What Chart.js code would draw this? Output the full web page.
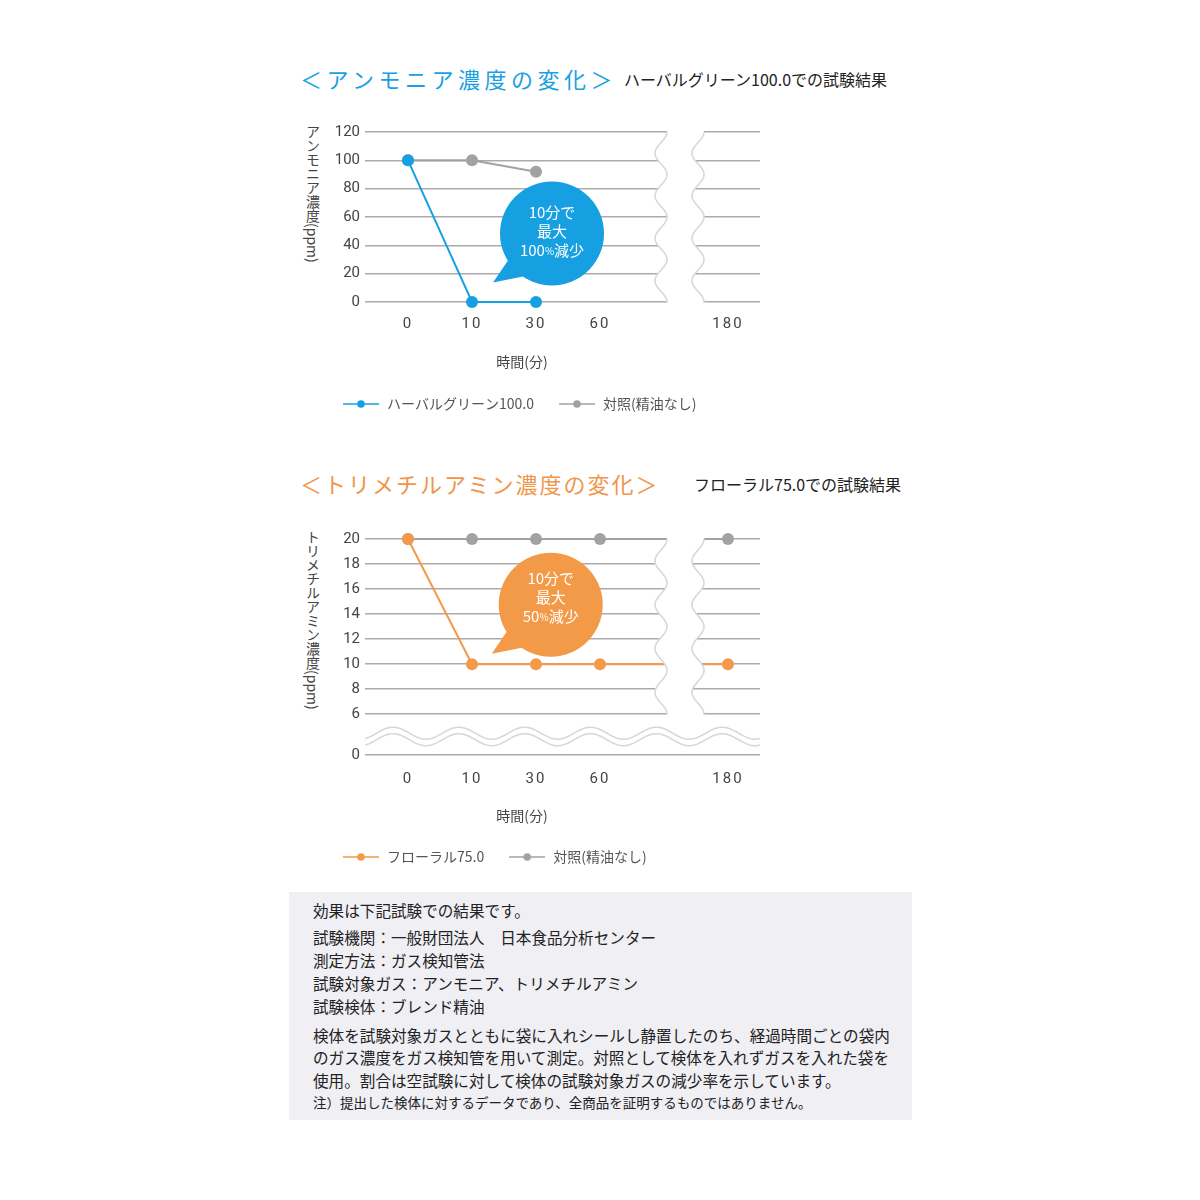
<!DOCTYPE html>
<html lang="ja">
<head>
<meta charset="utf-8">
<script src="https://cdn.jsdelivr.net/npm/chart.js@4.4.1/dist/chart.umd.min.js"></script>
<style>
  html, body { margin: 0; padding: 0; background: #fff; }
  body { width: 1200px; height: 1200px; position: relative; font-family: "Noto Sans CJK JP", sans-serif; }
  .head { position: absolute; left: 300px; font-size: 22px; line-height: 30px; white-space: nowrap; }
  .sub { position: absolute; font-size: 16px; line-height: 24px; color: #222; white-space: nowrap; }
  .ytitle { position: absolute; left: 305px; writing-mode: vertical-rl; font-size: 14px; line-height: 16px; color: #444; white-space: nowrap; }
  canvas { position: absolute; left: 278px; }
  #note { position: absolute; left: 289px; top: 892px; width: 623px; height: 228px; background: #efeff4; color: #222; }
  #note div { position: absolute; left: 24px; font-size: 15.6px; line-height: 24px; white-space: nowrap; }
  #note div.small { font-size: 13.5px; }
</style>
</head>
<body>

<div class="head" style="top:63px; color:#17a0e3; letter-spacing:4.5px;">＜アンモニア濃度の変化＞</div>
<div class="sub" style="left:624px; top:67px;">ハーバルグリーン100.0での試験結果</div>
<div class="ytitle" style="top:125px;">アンモニア濃度(ppm)</div>
<canvas id="chart1" width="488" height="311" style="top:110px;"></canvas>

<div class="head" style="top:468px; color:#f0954a; letter-spacing:2px;">＜トリメチルアミン濃度の変化＞</div>
<div class="sub" style="left:694px; top:472px;">フローラル75.0での試験結果</div>
<div class="ytitle" style="top:530px;">トリメチルアミン濃度(ppm)</div>
<canvas id="chart2" width="488" height="359" style="top:515px;"></canvas>

<div id="note">
  <div style="top:6px">効果は下記試験での結果です。</div>
  <div style="top:33px">試験機関：一般財団法人　日本食品分析センター</div>
  <div style="top:56px">測定方法：ガス検知管法</div>
  <div style="top:79px">試験対象ガス：アンモニア、トリメチルアミン</div>
  <div style="top:102px">試験検体：ブレンド精油</div>
  <div style="top:131px">検体を試験対象ガスとともに袋に入れシールし静置したのち、経過時間ごとの袋内</div>
  <div style="top:153px">のガス濃度をガス検知管を用いて測定。対照として検体を入れずガスを入れた袋を</div>
  <div style="top:176px">使用。割合は空試験に対して検体の試験対象ガスの減少率を示しています。</div>
  <div class="small" style="top:198px">注）提出した検体に対するデータであり、全商品を証明するものではありません。</div>
</div>

<script>
const timeLabels = ['0', '10', '30', '60', '', '180'];
const ammoniaHerbal = [100, 0, 0, null, null, null];
const ammoniaControl = [100, 100, 92, null, null, null];
const ammoniaTicks = [0, 20, 40, 60, 80, 100, 120];
const tmaFloral = [20, 10, 10, 10, null, 10];
const tmaControl = [20, 20, 20, 20, null, 20];
const tmaTicks = [0, 6, 8, 10, 12, 14, 16, 18, 20];
const tmaFloor = 2.74; // where the "0" tick sits below the axis break

const BLUE = '#16a0e2';
const ORANGE = '#f39a48';
const GRAY = '#a2a2a2';
const GRID = '#ababab';
const WAVE = '#d8d8d8';
const FONT = '"Noto Sans CJK JP", sans-serif';
const NUMFONT = 'Roboto, "Noto Sans CJK JP", sans-serif';

function points(values) {
    return values.map((v, i) => ({x: i, y: v}));
}

function marker(color) {
    const c = document.createElement('canvas');
    c.width = 36;
    c.height = 10;
    const g = c.getContext('2d');
    g.strokeStyle = color;
    g.lineWidth = 1.5;
    g.beginPath();
    g.moveTo(0, 5);
    g.lineTo(36, 5);
    g.stroke();
    g.fillStyle = color;
    g.beginPath();
    g.arc(18, 5, 3.8, 0, Math.PI * 2);
    g.fill();
    return c;
}

// white gap with wavy edges across the time axis (and optional value axis break)
const breakPlugin = {
    id: 'breaks',
    afterDatasetsDraw(chart, args, opts) {
        const {ctx, chartArea: a, scales: {x, y}} = chart;
        const top = a.top;
        const bot = y.getPixelForValue(opts.vBottom);
        const period = (bot - top) / 4;
        const lc = x.getPixelForValue(4) - 3;
        const rc = lc + 37;
        const amp = 6;
        const wx = (c, yy) => c + amp * Math.cos(2 * Math.PI * (yy - top) / period);
        ctx.save();
        ctx.fillStyle = '#fff';
        ctx.beginPath();
        for (let yy = top - 2; yy <= bot + 2; yy++) ctx.lineTo(wx(lc, yy), yy);
        for (let yy = bot + 2; yy >= top - 2; yy--) ctx.lineTo(wx(rc, yy), yy);
        ctx.closePath();
        ctx.fill();
        ctx.strokeStyle = WAVE;
        ctx.lineWidth = 1.6;
        [lc, rc].forEach(c => {
            ctx.beginPath();
            for (let yy = top; yy <= bot + 1; yy++) ctx.lineTo(wx(c, yy), yy);
            ctx.stroke();
        });
        if (opts.hBreak) {
            const base = y.getPixelForValue(6);
            const hp = (a.right - a.left) / 6;
            const x0 = a.left + 28;
            [19, 25.5].forEach(dy => {
                ctx.beginPath();
                for (let xx = a.left; xx <= a.right; xx++) {
                    ctx.lineTo(xx, base + dy - amp * Math.cos(2 * Math.PI * (xx - x0) / hp));
                }
                ctx.stroke();
            });
        }
        ctx.restore();
    }
};

// speech bubble with the reduction note
const bubblePlugin = {
    id: 'bubble',
    afterDatasetsDraw(chart, args, o) {
        const {ctx, scales: {x, y}} = chart;
        const cx = x.getPixelForValue(o.x);
        const cy = y.getPixelForValue(o.y);
        ctx.save();
        ctx.fillStyle = o.color;
        ctx.beginPath();
        ctx.arc(cx, cy, 52, 0, Math.PI * 2);
        ctx.fill();
        ctx.beginPath();
        ctx.moveTo(cx - 44, cy + 27);
        ctx.lineTo(cx - 59, cy + 49);
        ctx.lineTo(cx - 29, cy + 43);
        ctx.closePath();
        ctx.fill();
        ctx.fillStyle = '#fff';
        ctx.textBaseline = 'middle';
        ctx.textAlign = 'left';
        o.lines.forEach((parts, i) => {
            let w = 0;
            parts.forEach(p => { ctx.font = p[1] + 'px ' + FONT; w += ctx.measureText(p[0]).width; });
            let px = cx - w / 2;
            const py = cy + o.dy + (i - 1) * 19;
            parts.forEach(p => {
                ctx.font = p[1] + 'px ' + FONT;
                ctx.fillText(p[0], px, py + (p[1] < 14 ? 1 : 0));
                px += ctx.measureText(p[0]).width;
            });
        });
        ctx.restore();
    }
};

// spaced-out time labels and a left-aligned legend
const tweaks = {
    id: 'tweaks',
    afterUpdate(chart) {
        const s = chart.scales.x;
        if (s._spaced) return;
        const draw = s.drawLabels.bind(s);
        s.drawLabels = function (area) {
            const ctx = chart.ctx;
            const prev = ctx.letterSpacing;
            ctx.letterSpacing = '2px';
            draw(area);
            ctx.letterSpacing = prev;
        };
        s._spaced = true;
    },
    afterLayout(chart) {
        chart.legend.left = 40;
    }
};

function timeAxis(pad) {
    return {
        type: 'linear',
        min: -0.672,
        max: 5.5,
        afterBuildTicks: s => {
            s.ticks = timeLabels.map((l, i) => ({value: i, l: l})).filter(t => t.l !== '').map(t => ({value: t.value}));
        },
        afterFit: s => { s.height = 40; s.paddingLeft = 0; s.paddingRight = 0; },
        grid: {display: false},
        border: {display: false},
        ticks: {
            callback: v => timeLabels[v],
            padding: pad,
            maxRotation: 0,
            autoSkip: false,
            color: '#444',
            font: {family: NUMFONT, size: 15}
        }
    };
}

function lineSet(label, values, color) {
    return {
        label: label,
        data: points(values),
        borderColor: color,
        backgroundColor: color,
        pointBackgroundColor: color,
        borderWidth: 2,
        pointRadius: 6,
        pointHoverRadius: 6,
        pointBorderWidth: 0,
        tension: 0,
        spanGaps: true,
        clip: false
    };
}

function plugins(titlePad, colors) {
    return {
        title: {
            display: true,
            text: '時間(分)',
            position: 'bottom',
            weight: 500,
            color: '#444',
            font: {family: FONT, size: 14, weight: 'normal'},
            padding: titlePad
        },
        legend: {
            position: 'bottom',
            align: 'start',
            labels: {
                usePointStyle: true,
                pointStyleWidth: 38,
                padding: 24,
                color: '#555',
                font: {family: FONT, size: 14},
                generateLabels: chart => Chart.defaults.plugins.legend.labels.generateLabels(chart)
                    .map((l, i) => Object.assign(l, {pointStyle: marker(colors[i])}))
            }
        },
        tooltip: {enabled: false}
    };
}

new Chart(document.getElementById('chart1'), {
    type: 'line',
    data: {
        datasets: [
            lineSet('ハーバルグリーン100.0', ammoniaHerbal, BLUE),
            lineSet('対照(精油なし)', ammoniaControl, GRAY)
        ]
    },
    options: {
        responsive: false,
        animation: false,
        layout: {padding: {top: 22, left: 0, right: 0, bottom: 0}},
        scales: {
            x: timeAxis(5),
            y: {
                min: 0,
                max: 120,
                afterBuildTicks: s => { s.ticks = ammoniaTicks.map(v => ({value: v})); },
                afterFit: s => { s.width = 87; },
                grid: {color: GRID, lineWidth: 1.5, drawTicks: false},
                border: {display: false},
                ticks: {padding: 5, color: '#444', font: {family: NUMFONT, size: 15}}
            }
        },
        plugins: Object.assign(plugins({top: 11.6, bottom: 2.6}, [BLUE, GRAY]), {
            breaks: {vBottom: 0, hBreak: false},
            bubble: {
                x: 2.25, y: 48.4, dy: -2, color: BLUE,
                lines: [[['10分で', 15]], [['最大', 15]], [['100', 15], ['%', 10], ['減少', 15]]]
            }
        })
    },
    plugins: [breakPlugin, bubblePlugin, tweaks]
});

new Chart(document.getElementById('chart2'), {
    type: 'line',
    data: {
        datasets: [
            lineSet('フローラル75.0', tmaFloral, ORANGE),
            lineSet('対照(精油なし)', tmaControl, GRAY)
        ]
    },
    options: {
        responsive: false,
        animation: false,
        layout: {padding: {top: 24, left: 0, right: 0, bottom: 0}},
        scales: {
            x: timeAxis(7),
            y: {
                min: tmaFloor,
                max: 20,
                afterBuildTicks: s => { s.ticks = tmaTicks.map(v => ({value: v === 0 ? tmaFloor : v})); },
                afterFit: s => { s.width = 87; },
                grid: {color: GRID, lineWidth: 1.5, drawTicks: false},
                border: {display: false},
                ticks: {
                    padding: 5,
                    color: '#444',
                    font: {family: NUMFONT, size: 15},
                    callback: v => (v < 6 ? '0' : String(v))
                }
            }
        },
        plugins: Object.assign(plugins({top: 12.6, bottom: 1.6}, [ORANGE, GRAY]), {
            breaks: {vBottom: 6, hBreak: true},
            bubble: {
                x: 2.23, y: 14.75, dy: -7, color: ORANGE,
                lines: [[['10分で', 15]], [['最大', 15]], [['50', 15], ['%', 10], ['減少', 15]]]
            }
        })
    },
    plugins: [breakPlugin, bubblePlugin, tweaks]
});
</script>
</body>
</html>
